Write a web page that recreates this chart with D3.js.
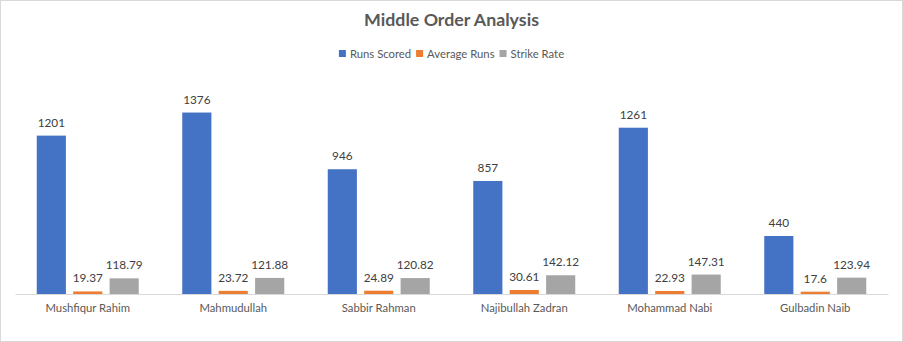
<!DOCTYPE html>
<html><head><meta charset="utf-8">
<script src="https://cdn.jsdelivr.net/npm/d3@7"></script>
<style>body{margin:0;background:#fff}svg{display:block}</style>
</head><body><svg id="c" width="903" height="342"></svg>
<script>
const categories = ["Mushfiqur Rahim","Mahmudullah","Sabbir Rahman","Najibullah Zadran","Mohammad Nabi","Gulbadin Naib"];
const seriesNames = ["Runs Scored","Average Runs","Strike Rate"];
const runsScored = [1201,1376,946,857,1261,440];
const averageRuns = [19.37,23.72,24.89,30.61,22.93,17.6];
const strikeRate = [118.79,121.88,120.82,142.12,147.31,123.94];
const colors = ["#4472C4","#ED7D31","#A5A5A5"];
const series = [runsScored, averageRuns, strikeRate];

const svg = d3.select("#c");
const W = 903, H = 342;
const font = "Lato, 'Open Sans', sans-serif";
svg.append("rect").attr("x",0.5).attr("y",0.5).attr("width",W-1).attr("height",H-1)
  .attr("fill","#fff").attr("stroke","#d9d9d9");

const x0 = d3.scaleBand().domain(categories).range([15,888]).paddingInner(0).paddingOuter(0);
const x1 = d3.scaleBand().domain(seriesNames).range([0,102]).paddingInner(0.2).paddingOuter(0);
const y = d3.scaleLinear().domain([0,1600]).range([294,83]);

svg.append("text").attr("x",W/2).attr("y",26).attr("text-anchor","middle")
  .attr("font-family",font).attr("font-weight","bold").attr("font-size",17.8).attr("fill","#595959")
  .text("Middle Order Analysis");

// legend
const legend = svg.append("g");
let lx = 340;
seriesNames.forEach((n,i)=>{
  legend.append("rect").attr("x",lx).attr("y",50).attr("width",7).attr("height",7).attr("fill",colors[i]);
  const t = legend.append("text").attr("x",lx+11).attr("y",58).attr("font-family",font).attr("font-size",11.3)
    .attr("fill","#595959").text(n);
  lx += 11 + t.node().getComputedTextLength() + 5;
});
const bb = legend.node().getBBox();
legend.attr("transform",`translate(${(W/2 - (bb.x+bb.width/2)).toFixed(1)},0)`);

const g = svg.append("g");
categories.forEach((c,ci)=>{
  const gx = x0(c) + (x0.bandwidth()-102)/2;
  seriesNames.forEach((s,si)=>{
    const v = series[si][ci];
    const bx = gx + x1(s);
    g.append("rect").attr("x",bx).attr("y",y(v)).attr("width",x1.bandwidth()).attr("height",y(0)-y(v))
      .attr("fill",colors[si]);
    g.append("text").attr("x",bx+x1.bandwidth()/2).attr("y",y(v)-9).attr("text-anchor","middle")
      .attr("font-family",font).attr("font-size",11.8).attr("fill","#404040").text(v);
  });
});

const xAxis = d3.axisBottom(x0).tickSize(0).tickPadding(10);
const ax = svg.append("g").attr("transform",`translate(0,${y(0)})`).call(xAxis);
ax.select(".domain").attr("stroke","#d9d9d9");
ax.selectAll("text").attr("font-family",font).attr("font-size",11.3).attr("fill","#595959");
</script></body></html>
